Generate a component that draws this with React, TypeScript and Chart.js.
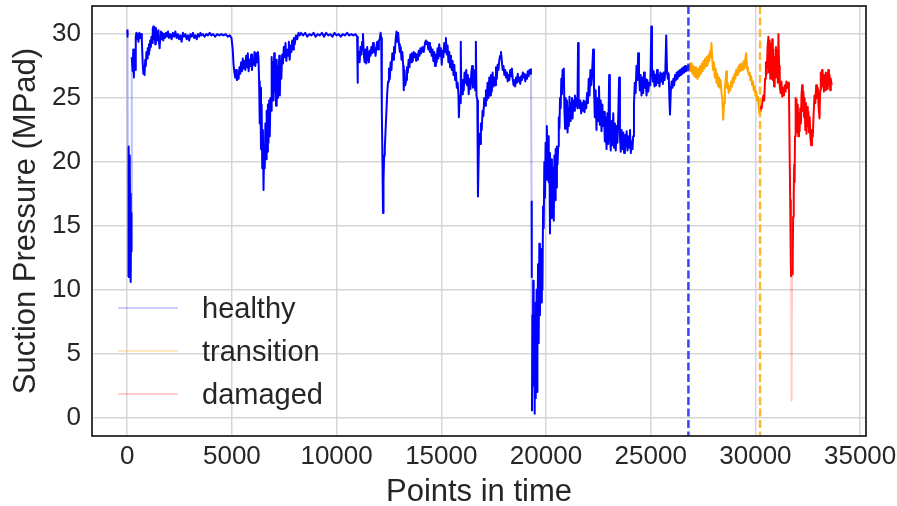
import React, { useEffect, useRef } from 'react';
import { Chart, registerables } from 'chart.js';

Chart.register(...registerables);

// ---- data (x = point index, y = suction pressure) ----
const healthy: [number, number][] = [
  [0,30.3],[20,29.8],[40,11],[55,16],[70,21.2],[85,15],[100,19.5],[115,13.5],[130,20.5],[145,12],[160,17.5],[175,10.6],[190,16],[205,13],[220,28.2],
  [260,27.1],[290,28.8],[320,26.6],[350,28.5],[380,27.2],[410,29.8],[440,30.1],[470,29.6],[500,30],[540,29.4],[580,30.1],[620,29.7],[660,30],[700,29.5],[740,27.8],[770,26.9],[800,27.4],[830,26.8],[860,28],[890,27.5],[920,28.6],[950,28.1],[980,28.9],[1010,28.4],[1040,29.2],[1070,28.7],[1100,29.5],[1130,29],[1160,29.8],[1190,29.3],[1220,30.4],[1250,30.6],[1280,29.6],[1310,30.3],[1340,29.2],[1370,30.5],[1400,29.7],[1430,30.2],[1460,29.5],[1490,30.3],[1520,29.4],[1550,28.9],[1580,29.8],[1610,30.2],[1640,29.6],[1680,30.1],[1720,29.5],[1760,30],[1800,29.7],[1850,30.1],[1900,29.8],[1950,30.2],[2000,29.7],[2060,30],[2120,29.6],[2180,30.1],[2240,29.8],[2300,30.2],[2360,29.7],[2420,30],[2480,29.6],[2540,29.9],[2600,29.4],[2660,30.1],[2720,29.8],[2780,30],[2840,29.6],[2900,29.9],[2960,29.5],[3020,30],[3080,29.8],[3140,30.1],[3200,29.7],[3260,29.9],[3320,29.6],[3380,30],[3440,29.8],[3500,30.1],[3560,29.9],[3620,30],[3700,29.8],[3780,30],[3860,29.9],[3940,30.1],[4020,29.9],[4100,30],[4200,29.8],[4300,30],[4400,29.9],[4500,30],[4600,29.9],[4700,30],[4800,29.8],[4900,29.9],[4980,29.7],
  [5040,28.8],[5080,27.6],[5120,27],[5160,26.6],[5200,27.2],[5240,26.4],[5280,26.8],[5320,26.5],[5360,27.4],[5400,26.9],[5440,27.8],[5480,27.1],[5520,28.1],[5560,27.3],[5600,27.9],[5640,27.2],[5680,28.3],[5720,27.4],[5760,28.5],[5800,27.1],[5840,28],[5880,27.5],[5920,28.4],[5960,27.2],[6000,28.1],[6040,27.6],[6080,28.6],[6120,27.5],[6160,28.5],[6200,27.8],[6240,28.6],[6268,28.2],
  [6300,26.3],[6330,23],[6360,25.8],[6390,21],[6420,24.5],[6450,19.5],[6480,22.5],[6510,17.8],[6540,21],[6570,19.5],[6600,23],[6630,20.2],[6660,24],[6690,20.8],[6720,24.5],[6750,21.5],[6780,24.8],[6810,22],[6840,25],[6870,24],[6900,28.2],[6930,25],[6960,27.8],[6990,24.8],[7020,28.5],[7050,25.5],[7080,27.6],[7110,24.4],[7140,28],[7170,25],[7200,27.5],[7230,25.8],[7260,28.3],[7290,25.2],[7320,27.9],[7360,26.5],[7400,28.4],[7440,27.7],[7480,29],[7520,28.2],[7560,29.3],[7600,27.9],[7640,28.8],[7680,28.3],[7720,29.4],[7760,28],[7800,29.1],[7840,28.6],[7880,29.5],[7920,28.8],[7960,29.7],[8000,29.2],[8060,29.9],[8120,29.6],[8180,30.1],[8240,29.9],[8300,30.1],[8400,29.9],[8500,30.1],[8600,29.8],[8700,30],[8800,29.9],[8900,30.1],[9000,29.8],[9100,30],[9200,29.9],[9300,30.1],[9400,29.8],[9500,30.1],[9600,29.9],[9700,30],[9800,29.8],[9900,30.1],[10000,29.9],[10100,30],[10200,29.8],[10300,30],[10400,29.9],[10500,30.1],[10600,29.9],[10700,30],[10800,29.9],[10900,30],[10980,29.8],
  [11000,26.2],[11020,28],[11060,28.6],[11100,27.8],[11140,29],[11180,28.4],[11220,29.4],[11260,30],[11300,28.4],[11340,27.8],[11380,28.8],[11420,27.7],[11460,29],[11500,28.2],[11540,27.8],[11580,28.7],[11620,28.3],[11660,29],[11700,28.5],[11740,29.3],[11780,28.6],[11820,28.9],[11860,28.3],[11900,29],[11940,29.4],[11980,28.8],[12020,29.5],[12060,29.6],[12100,30.1],[12130,29.7],[12160,24],[12190,20],[12217,16],[12240,18.5],[12270,20.5],[12300,21],[12340,22.5],[12380,24],[12420,25.5],[12460,26.3],[12500,27.3],[12540,26.5],[12580,27.8],[12620,27.2],[12660,28.5],[12700,28],[12740,29],[12780,28.5],[12820,29.6],[12860,30.2],[12900,29.4],[12940,30.1],[12980,29.2],[13020,28.6],[13060,29],[13100,28],[13140,28.6],[13180,27.5],[13207,25.6],[13240,27.2],[13280,26],[13320,26.4],[13360,27.4],[13400,27],[13440,28],[13480,27.4],[13520,28.4],[13560,27.8],[13600,28.5],[13640,27.9],[13680,28.6],[13720,28.2],[13760,28.5],[13800,27.9],[13840,28.4],[13880,28],[13920,28.7],[13960,28.3],[14000,28.9],[14040,28.5],[14100,29],[14160,28.6],[14220,29.3],[14260,29.5],[14300,29.2],[14340,29.4],[14380,28.8],[14420,29.3],[14460,28.6],[14500,29],[14540,28.3],[14580,28.8],[14620,27.9],[14660,28.6],[14700,27.5],[14740,28.4],[14780,27.8],[14820,28.9],[14860,28.1],[14900,29.2],[14940,28.3],[14980,28.9],[15020,27.6],[15060,28.7],[15100,28.2],[15140,29.3],[15180,28.6],[15220,29.7],[15260,28.4],[15300,29.1],[15340,27.8],[15380,28.6],[15420,27.4],[15460,28.3],[15500,27.2],[15540,27.9],[15580,26.8],[15620,27.6],[15660,26.4],[15700,27],[15740,25.8],[15780,26.2],[15820,25.2],[15840,23.5],[15870,25],[15900,24.6],[15930,29.4],[15950,26],[15990,25.3],[16030,26.4],[16070,25.6],[16110,27],[16150,26.2],[16190,27.2],[16230,26],[16270,26.8],[16310,25.3],[16350,26.5],[16390,25.7],[16430,26.9],[16470,27.5],[16510,25.8],[16550,27.2],[16590,26.4],[16620,25.6],[16650,29.4],[16680,25.2],[16720,24.8],[16750,17.3],[16780,20],[16810,22.2],[16850,21.4],[16890,23],[16930,22.5],[16970,24],[17010,23.6],[17050,25],[17090,24.4],[17130,25.6],[17170,24.8],[17210,26.2],[17250,25],[17290,26.6],[17330,25.2],[17370,26.8],[17410,25.5],[17450,27],[17490,25.9],[17530,26.6],[17570,26],[17610,27.4],[17650,26.5],[17690,27.6],[17730,27.2],[17770,28],[17810,28.3],[17850,28.6],[17890,27.9],[17930,27.2],[17970,27.5],[18010,26.8],[18050,27.2],[18090,26.6],[18130,27],[18170,26.3],[18210,26.8],[18250,26.4],[18290,27.2],[18330,26.7],[18370,27.3],[18410,26.5],[18450,26],[18490,26.4],[18530,25.9],[18570,26.6],[18610,26.2],[18650,26.9],[18690,26.3],[18730,26.6],[18770,26.1],[18810,26.7],[18850,26.4],[18890,27],[18930,26.6],[18970,26.9],[19010,26.3],[19050,26.8],[19090,26.5],[19130,27.1],[19170,26.7],[19210,27.2],[19250,26.9],[19280,27.3],
  [19310,16.9],[19320,11],[19330,0.5],[19350,8],[19370,3],[19390,10.7],[19410,2.5],[19430,8],[19450,0.3],[19470,6],[19490,1.5],[19510,9],[19530,3],[19550,10],[19570,2],[19590,7],[19620,12],[19650,5.8],[19680,13.6],[19710,8],[19740,12.5],[19770,9],[19800,13.2],[19830,10],[19860,16.5],[19890,14.8],[19920,20],[19950,17.2],[19980,21.5],[20010,18.6],[20040,22.8],[20070,19.5],[20100,22],[20130,18.4],[20160,20.7],[20190,14.4],[20220,19.8],[20250,15.6],[20280,20.2],[20310,16.5],[20340,19.5],[20370,15.4],[20400,20.5],[20430,17],[20460,21],[20490,18],[20520,21.2],[20550,19.8],[20580,21.2],[20610,23.5],[20640,22.6],[20670,25],[20700,24.2],[20730,26.5],[20760,25.3],[20790,27.2],[20820,26],[20850,27.3],[20880,24],[20910,22.6],[20940,25],[20970,23],[21000,24.8],[21030,22.3],[21060,24.2],[21090,22.8],[21120,25.1],[21150,23.2],[21180,24.6],[21210,23.6],[21240,25],[21270,23.4],[21300,24.8],[21340,24],[21380,25.2],[21420,24.4],[21460,25],[21500,24.2],[21530,29.3],[21560,25],[21600,24.2],[21640,24.8],[21680,23.8],[21720,24.6],[21760,24],[21800,24.8],[21840,23.9],[21880,24.7],[21920,24.2],[21960,25.4],[22000,24.6],[22040,26.5],[22080,25.2],[22120,27.2],[22160,26],[22200,27],[22250,28.8],[22290,25.9],[22330,23.5],[22370,25.6],[22410,22.5],[22450,25],[22490,23.2],[22530,25.9],[22570,22.9],[22610,24.8],[22650,22.4],[22690,24.5],[22730,22.8],[22770,23.9],[22810,21.6],[22850,23.5],[22890,21],[22930,23.8],[22970,21.4],[23015,26.8],[23050,22.5],[23090,20.9],[23130,23.2],[23170,21.3],[23210,23.8],[23250,21.1],[23290,23],[23330,20.9],[23370,22.8],[23410,21.5],[23450,23.6],[23490,26.6],[23530,22],[23570,20.8],[23610,22.5],[23650,21],[23690,22.3],[23730,20.7],[23770,22.1],[23810,21.2],[23850,22.4],[23890,20.9],[23930,22],[23970,21.1],[24010,22.5],[24050,20.7],[24090,21.6],[24130,21],[24160,22],[24200,24.5],[24240,26.2],[24280,25.4],[24320,27.5],[24360,26.4],[24400,28.5],[24440,27],[24480,25.6],[24520,26.8],[24560,25.2],[24600,26.6],[24640,25.4],[24680,27],[24720,25.8],[24760,26.5],[24800,25.2],[24840,26.4],[24880,25.5],[24930,26.2],[24980,26],[25030,30.6],[25060,27.5],[25100,26.3],[25140,27.1],[25180,25.9],[25220,26.8],[25260,26],[25300,27.2],[25340,26.2],[25380,26.8],[25420,25.9],[25460,27],[25500,26.3],[25540,26.9],[25580,26.1],[25620,27],[25660,26.4],[25700,27.2],[25740,29.9],[25780,27],[25820,26.5],[25860,26.9],[25890,25],[25920,23.7],[25960,25.6],[26000,26.3],[26040,25.8],[26080,26.5],[26120,26],[26160,26.8],[26200,26.4],[26240,27],[26280,26.5],[26320,27.1],[26360,26.7],[26400,27.2],[26440,26.8],[26480,27.3],[26520,26.9],[26560,27.4],[26600,27],[26640,27.5],[26680,27.1],[26720,27.4],[26760,27.2],[26800,27.6],
];

const transition: [number, number][] = [
  [26800,27.6],[26840,27.2],[26880,27.7],[26920,27.1],[26960,27.7],[27000,26.9],[27040,27.5],[27080,26.7],[27120,27.4],[27160,26.6],[27200,27.2],[27240,26.5],[27280,27.3],[27320,26.7],[27360,27.5],[27400,26.9],[27440,27.7],[27480,27.1],[27520,27.9],[27560,27.3],[27600,28.1],[27640,27.5],[27680,28.2],[27720,27.6],[27760,28.4],[27800,27.9],[27840,28.7],[27870,28.2],[27900,29.3],[27940,28],[27980,27.2],[28020,27.8],[28060,26.6],[28100,27.3],[28140,26.2],[28180,26.9],[28220,25.9],[28260,26.6],[28300,25.8],[28340,26.4],[28380,25.4],[28420,25],[28460,23.3],[28500,24.6],[28540,25.8],[28580,26.5],[28610,27.1],[28640,25.8],[28680,26.2],[28720,25.4],[28760,25.9],[28800,25.6],[28840,26.3],[28880,25.9],[28920,26.6],[28960,26.2],[29000,26.9],[29040,26.5],[29080,27.2],[29120,26.8],[29160,27.4],[29200,27],[29240,27.6],[29280,27.1],[29320,27.7],[29360,27.2],[29400,27.5],[29440,27.9],[29480,27.3],[29520,28.1],[29560,28.5],[29600,27.4],[29640,27.1],[29680,26.8],[29720,27],[29760,26.4],[29800,26.7],[29840,26],[29880,26.3],[29920,25.6],[29960,25.9],[30000,25.2],[30040,25.5],[30080,24.8],[30120,25.1],[30160,24.2],[30190,23.8],[30220,24],
];

const damaged: [number, number][] = [
  [30220,24],[30260,24.4],[30300,24.2],[30340,24.9],[30380,25.2],[30420,24.8],[30460,26.5],[30500,27.8],[30540,26.9],[30580,29],[30620,29.8],[30650,27],[30680,29.5],[30710,26.5],[30740,29.2],[30770,27.5],[30800,29.6],[30830,26.4],[30860,28.8],[30890,25.9],[30920,28.2],[30950,26.6],[30980,29],[31010,27.4],[31040,28.7],[31070,26.2],[31100,30],[31130,27.5],[31160,26],[31200,25.4],[31240,26.3],[31280,25.1],[31320,25.8],[31360,25.2],[31400,26],[31440,25.5],[31480,26.3],[31520,25.8],[31560,26.2],[31600,25.6],
  [31660,17],[31690,12],[31705,11],[31725,1.3],[31750,11.2],[31780,12.2],[31800,15.7],[31830,17.5],[31850,19.8],[31870,18.4],[31890,22],[31910,25],[31930,23.5],[31960,24.9],[31990,22.3],[32020,24.5],[32050,22],[32080,23.8],[32110,22.4],[32140,24.2],[32170,23],[32200,25.2],[32230,26],[32260,24],[32290,25.5],[32320,23.5],[32350,25],[32380,22.5],[32410,24.6],[32440,22.2],[32470,24.3],[32500,22.8],[32530,23.9],[32560,22.3],[32590,23.5],[32620,22],[32660,21.3],[32700,22.5],[32740,22],[32780,23.8],[32820,25.2],[32860,24.6],[32900,26],[32940,25],[32980,25.8],[33020,24.2],[33060,23.4],[33090,25.6],[33120,27],[33150,25.8],[33180,27.2],[33210,26],[33240,26.8],[33270,25.5],[33300,26.6],[33330,25.6],[33360,27],[33390,25.8],[33420,26.9],[33450,25.7],[33480,27.2],[33510,26],[33540,26.8],[33570,25.6],[33600,26.5],[33640,26],
];

const seriesNames = ['healthy', 'transition', 'damaged'];
const seriesColors = ['rgb(0,0,255)', 'rgb(255,165,0)', 'rgb(255,0,0)'];
const seriesFaint = ['rgba(0,0,255,0.25)', 'rgba(255,165,0,0.25)', 'rgba(255,0,0,0.2)'];
const legendColors = ['rgba(0,0,255,0.2)', 'rgba(255,165,0,0.25)', 'rgba(255,0,0,0.2)'];

const transitionStart = 26800;
const damagedStart = 30220;

const xTickValues = [0, 5000, 10000, 15000, 20000, 25000, 30000, 35000];
const yTickValues = [0, 5, 10, 15, 20, 25, 30];
const xRange = [-1680, 35280];
const yRange = [-1.45, 32.2];

const xTitle = 'Points in time';
const yTitle = 'Suction Pressure (MPad)';

const FONT = '"Liberation Sans", Arial, sans-serif';
const TEXT = '#262626';

const decorPlugin = {
  id: 'decor',
  afterDatasetsDraw(chart: any) {
    const { ctx, chartArea: a, scales } = chart;
    const x = scales.x;
    ctx.save();
    ctx.beginPath();
    ctx.rect(a.left, a.top, a.right - a.left, a.bottom - a.top);
    ctx.clip();
    ctx.setLineDash([8, 3.5]);
    ctx.lineWidth = 2.5;
    const lines: [number, string][] = [
      [transitionStart, 'rgba(30,30,255,0.85)'],
      [damagedStart, 'rgba(255,170,20,0.85)'],
    ];
    for (const [v, c] of lines) {
      const px = x.getPixelForValue(v);
      ctx.strokeStyle = c;
      ctx.beginPath();
      ctx.moveTo(px, a.top);
      ctx.lineTo(px, a.bottom);
      ctx.stroke();
    }
    ctx.restore();

    // legend
    ctx.save();
    const fs = 29;
    ctx.font = `${fs}px ${FONT}`;
    ctx.textAlign = 'left';
    ctx.textBaseline = 'alphabetic';
    seriesNames.forEach((name, i) => {
      const ly = a.top + 302 + i * 43;
      ctx.strokeStyle = legendColors[i];
      ctx.lineWidth = 2.2;
      ctx.beginPath();
      ctx.moveTo(a.left + 26, ly);
      ctx.lineTo(a.left + 86, ly);
      ctx.stroke();
      ctx.fillStyle = TEXT;
      ctx.fillText(name, a.left + 110, ly + fs * 0.36);
    });
    ctx.restore();

    // frame
    ctx.save();
    ctx.strokeStyle = '#262626';
    ctx.lineWidth = 1.8;
    ctx.strokeRect(a.left, a.top, a.right - a.left, a.bottom - a.top);
    ctx.restore();
  },
};

export default function App() {
  const ref = useRef<HTMLCanvasElement | null>(null);
  useEffect(() => {
    if (!ref.current) return;
    const all = [healthy, transition, damaged];
    const chart = new Chart(ref.current, {
      type: 'line',
      data: {
        datasets: all.map((pts, i) => ({
          label: seriesNames[i],
          data: pts.map(([px, py]) => ({ x: px, y: py })),
          borderColor: seriesColors[i],
          borderWidth: 2,
          pointRadius: 0,
          tension: 0,
          fill: false,
          borderJoinStyle: 'round' as const,
          segment: {
            borderColor: (c: any) =>
              Math.abs(c.p1.parsed.y - c.p0.parsed.y) >= 9.5 ? seriesFaint[i] : undefined,
          },
        })),
      },
      options: {
        animation: false,
        responsive: false,
        devicePixelRatio: 1,
        layout: { padding: { top: 6, right: 31, left: 0, bottom: 0 } },
        plugins: { legend: { display: false }, tooltip: { enabled: false } },
        scales: {
          x: {
            type: 'linear',
            min: xRange[0],
            max: xRange[1],
            afterBuildTicks: (s: any) => { s.ticks = xTickValues.map((v) => ({ value: v })); },
            afterFit: (s: any) => { s.height = 70; s.paddingLeft = 0; s.paddingRight = 0; },
            ticks: {
              callback: (v: any) => String(v),
              color: TEXT,
              font: { family: FONT, size: 26 },
              padding: 5,
              maxRotation: 0,
              autoSkip: false,
            },
            grid: { color: '#d6d6d6', lineWidth: 1.5, drawTicks: false },
            border: { display: false },
            title: {
              display: true,
              text: xTitle,
              color: TEXT,
              font: { family: FONT, size: 31, lineHeight: 0.9 },
              padding: { top: 0, bottom: 0 },
            },
          },
          y: {
            type: 'linear',
            min: yRange[0],
            max: yRange[1],
            afterBuildTicks: (s: any) => { s.ticks = yTickValues.map((v) => ({ value: v })); },
            afterFit: (s: any) => { s.width = 92; s.paddingTop = 0; s.paddingBottom = 0; },
            ticks: {
              callback: (v: any) => String(v),
              color: TEXT,
              font: { family: FONT, size: 26 },
              padding: 11,
              autoSkip: false,
            },
            grid: { color: '#d6d6d6', lineWidth: 1.5, drawTicks: false },
            border: { display: false },
            title: {
              display: true,
              text: yTitle,
              color: TEXT,
              font: { family: FONT, size: 31, lineHeight: 0.9 },
              padding: { top: 12.5, bottom: 0 },
            },
          },
        },
      },
      plugins: [decorPlugin],
    });
    return () => chart.destroy();
  }, []);
  return (
    <div style={{ position: 'fixed', left: 0, top: 0, width: 897, height: 506, background: '#fff' }}>
      <canvas ref={ref} width={897} height={506} style={{ display: 'block' }} />
    </div>
  );
}
